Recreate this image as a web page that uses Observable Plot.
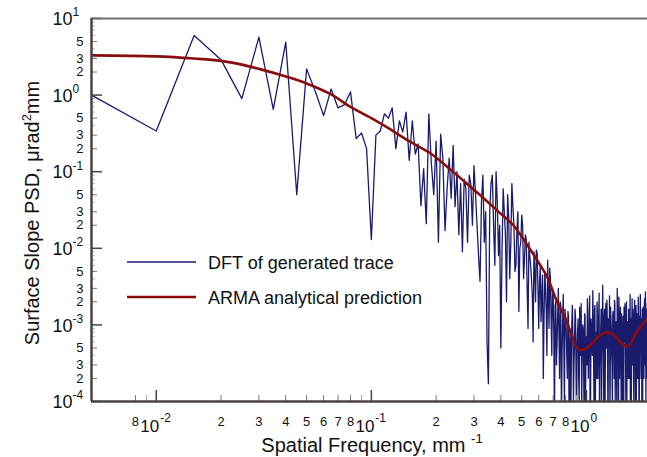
<!DOCTYPE html>
<html><head><meta charset="utf-8">
<script src="https://cdn.jsdelivr.net/npm/d3@7"></script>
<script src="https://cdn.jsdelivr.net/npm/@observablehq/plot@0.6"></script>
<style>body{margin:0;background:#fff} svg{display:block}</style>
</head><body><div id="chart"></div>
<script>
// DFT of generated trace: bins of 0.005 mm^-1 from 0.005 to 0.300
const dftLowValues = [1.0,0.34,6.0,2.9,0.9,5.7,0.65,4.9,0.05,2.2,
  1.1,0.54,1.2,0.68,0.75,1.1,0.27,0.32,0.2,0.013,
  0.3,0.34,0.57,0.5,0.68,0.2,0.46,0.33,0.6,0.14,
  0.46,0.17,0.23,0.036,0.11,0.021,0.57,0.13,0.05,0.25,
  0.012,0.31,0.15,0.017,0.06,0.15,0.045,0.22,0.035,0.1,
  0.015,0.07,0.009,0.08,0.06,0.012,0.09,0.07,0.02,0.12];
// DFT values, 0.31 .. 0.80 mm^-1 (every 0.01)
const dftMidValues = [0.02,0.0037,0.09,0.03,0.00017,0.07,0.02,0.1,0.008,0.0005,
  0.06,0.015,0.05,0.004,0.07,0.02,0.006,0.03,0.01,0.027,
  0.004,0.015,0.003,0.012,0.006,0.0025,0.009,0.002,0.0085,0.0009,
  0.006,0.0025,0.0002,0.005,0.0015,0.007,0.0009,0.004,0.0004,0.0025,
  0.00005,0.002,0.0006,0.003,0.0002,0.0018,0.0004,0.0025,0.00008,0.0012];
// DFT values, 0.305 .. 0.795 mm^-1 (every 0.01)
const dftMidOddValues = [0.05,0.008,0.04,0.012,0.0006,0.03,0.09,0.006,0.04,0.02,
  0.009,0.03,0.002,0.025,0.012,0.035,0.005,0.018,0.0015,0.012,
  0.02,0.007,0.013,0.0009,0.008,0.004,0.0006,0.005,0.0095,0.003,
  0.0035,0.0011,0.0045,0.0013,0.003,0.0004,0.0025,0.0055,0.0012,0.003,
  0.0008,0.0018,0.0003,0.0014,0.0007,0.002,0.00006,0.0011,0.0005,0.0016];
// DFT values, 0.81 .. 1.92 mm^-1 (every 0.01)
const dftHighValues = [0.0004,0.0015,0.00006,0.0008,0.0003,0.0018,0.0001,0.0006,0.0012,0.00005,
  0.0009,0.0002,0.0017,0.0004,0.00007,0.001,0.0003,0.0014,0.0001,0.0007,
  0.0022,0.0002,0.0009,0.00004,0.0012,0.0005,0.0028,0.0003,0.0015,0.00008,
  0.0008,0.002,0.0002,0.0011,0.00005,0.0006,0.0016,0.0003,0.0033,0.0004,
  0.0013,0.00009,0.0019,0.0005,0.0011,0.00004,0.0008,0.0024,0.0002,0.0012,
  0.0004,0.00006,0.0015,0.0006,0.0021,0.0001,0.0009,0.0003,0.003,0.0005,
  0.00007,0.0012,0.0004,0.0017,0.0001,0.0007,0.0002,0.0013,0.00005,0.0009,
  0.0019,0.0003,0.0008,0.00008,0.0011,0.0004,0.0016,0.0002,0.0007,0.00004,
  0.0012,0.0005,0.0022,0.0003,0.0009,0.0001,0.0014,0.0006,0.00006,0.0018,
  0.0004,0.0011,0.0002,0.0023,0.0005,0.00008,0.0013,0.0025,0.0003,0.001,
  0.00005,0.0016,0.0006,0.0012,0.0002,0.002,0.0007,0.0027,0.0001,0.0014,
  0.0004,0.0019];
// DFT values, 0.805 .. 1.915 mm^-1 (every 0.01)
const dftHighOddValues = [0.0009,0.0002,0.0013,0.0005,0.00004,0.0011,0.0007,0.0003,0.0016,0.0002,
  0.0006,0.0012,0.0001,0.0008,0.0019,0.0004,0.0009,0.00006,0.0013,0.0005,
  0.0003,0.0015,0.0007,0.0024,0.0001,0.0009,0.0004,0.0012,0.00007,0.0018,
  0.0005,0.0002,0.0014,0.0006,0.0026,0.0003,0.0009,0.0001,0.0011,0.0007,
  0.00005,0.0016,0.0004,0.0008,0.0021,0.0002,0.0012,0.0005,0.00008,0.0017,
  0.0009,0.0003,0.0013,0.0006,0.0002,0.0019,0.0004,0.0011,0.00006,0.0015,
  0.0007,0.0023,0.0002,0.001,0.0005,0.0014,0.00004,0.0008,0.0003,0.0017,
  0.0006,0.0012,0.0001,0.002,0.0004,0.0009,0.0002,0.0013,0.0007,0.0025,
  0.0003,0.00007,0.0011,0.0005,0.0016,0.0002,0.0008,0.0021,0.0004,0.001,
  0.0001,0.0014,0.0006,0.0003,0.0018,0.00005,0.0009,0.0005,0.0015,0.0002,
  0.0012,0.0007,0.00008,0.0017,0.0004,0.0011,0.0022,0.0003,0.0009,0.0006,
  0.0016,0.0002];

// ARMA analytical prediction
const armaFreq = [0.005,0.01,0.015,0.02,0.025,0.03,0.04,0.05,0.065,0.08,0.1,0.12,0.15,0.19,0.23,0.27,0.33,0.385,0.457,0.55,0.6,0.66,0.73,0.78,0.8,0.86,0.9,0.94,1.0,1.08,1.15,1.25,1.35,1.45,1.55,1.63,1.72,1.82,1.92];
const armaValues = [3.3,3.2,3.0,2.8,2.5,2.2,1.75,1.42,1.02,0.7,0.5,0.37,0.25,0.17,0.11,0.075,0.046,0.031,0.02,0.0095,0.0065,0.0041,0.002,0.0014,0.0012,0.0007,0.0005,0.00047,0.0005,0.0006,0.00072,0.0008,0.00072,0.00058,0.00052,0.00062,0.00082,0.001,0.0012];

// axis ticks
const xMajorTicks = [0.01, 0.1, 1];
const xMajorExp = ["-2", "-1", "0"];
const xMinorTicks = [0.008,0.009,0.02,0.03,0.04,0.05,0.06,0.07,0.08,0.09,0.2,0.3,0.4,0.5,0.6,0.7,0.8,0.9];
const xMinorLabels = ["8","","2","3","4","5","6","7","8","","2","3","4","5","6","7","8",""];
const yMajorTicks = [10, 1, 0.1, 0.01, 0.001, 0.0001];
const yMajorExp = ["1","0","-1","-2","-3","-4"];
const yMinorMantissa = [2,3,4,5,6,7,8,9];
const yMinorLabeled = [2,3,5];
const seriesNames = ["DFT of generated trace", "ARMA analytical prediction"];

const dft = [
  ...dftLowValues.map((v, i) => ({f: +(0.005 * (i + 1)).toFixed(3), v})),
  ...dftMidValues.map((v, i) => ({f: +(0.31 + 0.01 * i).toFixed(2), v})),
  ...dftMidOddValues.map((v, i) => ({f: +(0.305 + 0.01 * i).toFixed(3), v})),
  ...dftHighValues.map((v, i) => ({f: +(0.81 + 0.01 * i).toFixed(2), v})),
  ...dftHighOddValues.map((v, i) => ({f: +(0.805 + 0.01 * i).toFixed(3), v}))
].sort((a, b) => a.f - b.f);
const arma = armaFreq.map((f, i) => ({f, v: armaValues[i]}));

const yMinorTicks = [];
for (const e of [0.0001, 0.001, 0.01, 0.1, 1]) for (const m of yMinorMantissa) yMinorTicks.push({v: +(m * e).toPrecision(3), m});

const W = 647, H = 457, mL = 91, mT = 18, mB = 56, mR = 0;
const frameH = H - mT - mB, frameW = W - mL - mR;
const font = "Liberation Sans, Arial, Helvetica, sans-serif";
const blue = "#1b1b6e", red = "#8a0d0d", axisCol = "#4a4444";

const plot = Plot.plot({
  width: W, height: H, marginLeft: mL, marginTop: mT, marginBottom: mB, marginRight: mR,
  style: {fontFamily: font, background: "#fff", overflow: "visible"},
  x: {type: "log", domain: [0.005, 1.922], axis: null},
  y: {type: "log", domain: [1e-4, 10], axis: null},
  marks: [
    Plot.line(dft, {x: "f", y: "v", stroke: blue, strokeWidth: 1.3, clip: true}),
    Plot.line(arma, {x: "f", y: "v", stroke: red, strokeWidth: 2.6, curve: "catmull-rom", clip: true}),
    // x ticks (inward)
    Plot.tickX(xMinorTicks, {x: d => d, insetTop: frameH - 6, stroke: (d, i) => xMinorLabels[i] ? "#777" : "#aaa", strokeWidth: 1}),
    Plot.tickX(xMajorTicks, {x: d => d, insetTop: frameH - 11, stroke: "#444", strokeWidth: 1.5}),
    // y ticks (inward)
    Plot.tickY(yMinorTicks, {y: "v", insetRight: frameW - 6, stroke: "#777", strokeWidth: 1,
      filter: d => yMinorLabeled.includes(d.m)}),
    Plot.tickY(yMinorTicks, {y: "v", insetRight: frameW - 4, stroke: "#bbb", strokeWidth: 1,
      filter: d => !yMinorLabeled.includes(d.m)}),
    Plot.tickY(yMajorTicks, {y: d => d, insetRight: frameW - 11, stroke: "#444", strokeWidth: 1.5}),
    // frame
    Plot.ruleY([10], {stroke: "#6e6e6e", strokeWidth: 2}),
    Plot.ruleY([1e-4], {stroke: axisCol, strokeWidth: 2.5}),
    Plot.ruleX([0.005], {stroke: axisCol, strokeWidth: 2.5}),
    // x tick labels
    Plot.text(xMinorTicks, {x: d => d, y: 1e-4, text: (d, i) => xMinorLabels[i], dy: 20, fontSize: 13, fill: "#111"}),
    Plot.text(xMajorTicks, {x: d => d, y: 1e-4, text: () => "10", textAnchor: "end", dx: 3, dy: 25, fontSize: 17, fill: "#111"}),
    Plot.text(xMajorTicks, {x: d => d, y: 1e-4, text: (d, i) => xMajorExp[i], textAnchor: "start", dx: 4, dy: 17, fontSize: 12, fill: "#111"}),
    // y tick labels
    Plot.text(yMinorTicks.filter(d => yMinorLabeled.includes(d.m)), {x: 0.005, y: "v", text: d => String(d.m), textAnchor: "end", dx: -8, fontSize: 13, fill: "#111"}),
    Plot.text(yMajorTicks, {x: 0.005, y: d => d, text: (d, i) => yMajorExp[i], textAnchor: "start", dx: -19, dy: -6, fontSize: 12, fill: "#111"}),
    Plot.text(yMajorTicks, {x: 0.005, y: d => d, text: () => "10", textAnchor: "end", dx: -19, dy: 1, fontSize: 18, fill: "#111"})
  ]
});

const svg = d3.select(plot);
// axis titles
const yt = svg.append("text")
  .attr("transform", "translate(39,213) rotate(-90)")
  .attr("text-anchor", "middle")
  .attr("font-family", font).attr("font-size", 20).attr("fill", "#111");
yt.append("tspan").text("Surface Slope PSD, μrad");
yt.append("tspan").attr("font-size", 13).attr("dy", -8).text("2");
yt.append("tspan").attr("dy", 8).text("mm");

const xt = svg.append("text")
  .attr("x", 372).attr("y", 452)
  .attr("text-anchor", "middle")
  .attr("font-family", font).attr("font-size", 20).attr("fill", "#111");
xt.append("tspan").text("Spatial Frequency, mm ");
xt.append("tspan").attr("font-size", 13).attr("dy", -9).text("-1");

// legend
const legend = svg.append("g").attr("font-family", font).attr("font-size", 18).attr("fill", "#111").attr("text-anchor", "start");
[[blue, 1.3, 262], [red, 2.6, 297]].forEach(([c, w, y], i) => {
  legend.append("line").attr("x1", 127).attr("x2", 196).attr("y1", y).attr("y2", y).attr("stroke", c).attr("stroke-width", w);
  legend.append("text").attr("x", 208).attr("y", y + 6.5).attr("text-anchor", "start").text(seriesNames[i]);
});

document.getElementById("chart").appendChild(plot);
</script>
</body></html>
